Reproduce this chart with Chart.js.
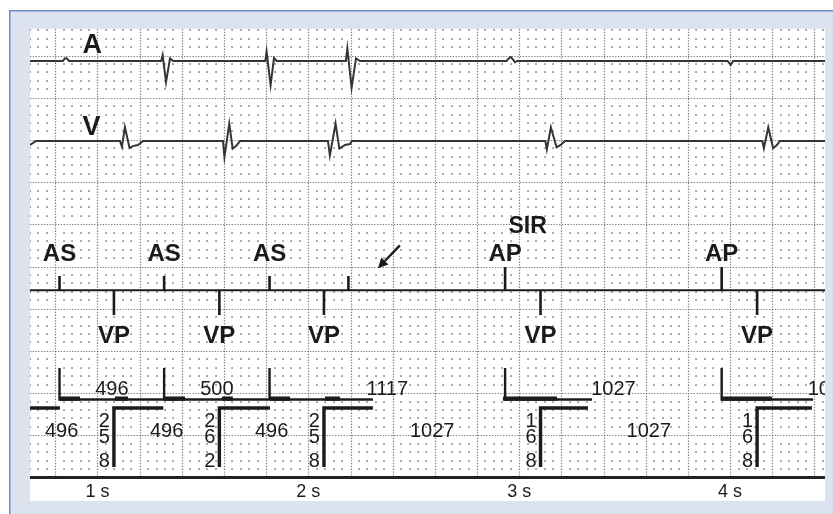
<!DOCTYPE html>
<html lang="en">
<head>
<meta charset="UTF-8">
<title>DDD pacing – EGM and marker channel</title>
<script src="https://cdn.jsdelivr.net/npm/chart.js"></script>
<style>
  html, body { margin: 0; padding: 0; background: #fff; }
  canvas { display: block; }
</style>
</head>
<body>
<canvas id="egm" width="833" height="514"></canvas>
<script>
// ---- values: time in ms, amplitude in mm of paper ----
const timeTicks = [1000, 2000, 3000, 4000];
const timeTickLabels = ['1 s', '2 s', '3 s', '4 s'];

// atrial EGM, [ms, mm above baseline]
const atrialTrace = [
  [680, 0], [836, 0], [846, 0.3], [852, 0.35], [860, 0.15], [866, 0],
  [1302, 0], [1309, 0.7], [1325, -2.5], [1344, 0.3], [1359, 0],
  [1796, 0], [1802, 1.1], [1821, -2.85], [1837, 0.35], [1850, 0],
  [2178, 0], [2185, 1.5], [2205, -3.2], [2226, 0.3], [2245, 0],
  [2940, 0], [2950, 0.3], [2960, 0.47], [2970, 0.2], [2980, -0.15], [2990, 0],
  [3988, 0], [4003, -0.47], [4014, 0],
  [4450, 0]
];

// ventricular EGM, [ms, mm above baseline]
const ventTrace = [
  [680, -0.47], [708, 0],
  [1107, 0], [1116, -0.7], [1130, 1.66], [1152, -0.83], [1168, -0.6], [1192, -0.47], [1216, 0],
  [1595, 0], [1602, -1.9], [1625, 2.05], [1641, -0.91], [1657, -0.6], [1676, 0],
  [2093, 0], [2102, -1.7], [2129, 2.05], [2147, -0.91], [2174, -0.47], [2197, -0.36], [2207, 0],
  [3124, 0], [3131, -0.98], [3150, 1.62], [3177, -0.75], [3197, -0.47], [3217, 0],
  [4153, 0], [4160, -0.86], [4181, 1.62], [4204, -0.86], [4222, -0.47], [4236, 0],
  [4450, 0]
];

// marker channel
const atrialTimes = [820, 1316, 1816, 2190, 2933, 3960];
const atrialMarks = ['AS', 'AS', 'AS', '', 'AP', 'AP'];   // '' = unlabelled sense (arrow)
const ventTimes = [1078, 1578, 2074, 3101, 4128];
const ventMarks = ['VP', 'VP', 'VP', 'VP', 'VP'];
const sirNote = 'SIR';
const sirTime = 3040;
const arrowTail = [2434, 27.5];
const arrowTip = [2330, 24.8];

// interval ladder
const ladderA = [820, 1316, 1816, 2933, 3960, 4987];
const aaLabels = ['496', '500', '1117', '1027', '1027'];
const upperEnds = [1312, 1818, 2306, 3345, 4393];
const upperThick = [[820, 917], [1083, 1145], [1311, 1415], [1590, 1642], [1818, 1913], [2079, 2150], [2923, 3179], [3961, 4198]];
const ladderV = [582, 1078, 1578, 2074, 3101, 4128];
const vvLabels = ['496', '496', '496', '1027', '1027'];
const lowerEnds = [822, 1312, 1818, 2306, 3326, 4388];
const avLabels = ['258', '262', '258', '168', '168'];

// ---- layout (mm on the paper) ----
const X_MIN = 680, X_MAX = 4450;
const L = {
  aBase: 49.35, vBase: 39.87,
  markBase: 22.2, asTop: 23.87, apTop: 24.94, vpBottom: 19.25,
  aLabelY: 25.65, vLabelY: 15.94, sirY: 28.97,
  upperTop: 12.97, upperY: 9.24, lowerY: 8.23, lowerBottom: 1.24,
  upperNumY: 9.77, lowerNumY: 4.8, avDigitY: [6.04, 4.09, 1.24], timeY: -2.31
};
const INK = '#1b1b1b';
const FONT = '"Liberation Sans", Arial, sans-serif';

function gapped(segments) {
  const out = [];
  segments.forEach(seg => {
    seg.forEach(([x, y]) => out.push({ x, y }));
    out.push({ x: seg[seg.length - 1][0], y: null });
  });
  return out;
}

function lineSet(data, width, color) {
  return {
    data, showLine: true, spanGaps: false, fill: false,
    borderColor: color || INK, borderWidth: width,
    pointRadius: 0, borderCapStyle: 'butt', borderJoinStyle: 'miter',
    tension: 0, clip: 0
  };
}

const datasets = [
  lineSet(atrialTrace.map(([t, v]) => ({ x: t, y: L.aBase + v })), 2, '#353535'),
  lineSet(ventTrace.map(([t, v]) => ({ x: t, y: L.vBase + v })), 2, '#353535'),
  lineSet([{ x: X_MIN, y: L.markBase }, { x: X_MAX, y: L.markBase }], 2),
  lineSet(gapped(atrialTimes.map((t, i) =>
    [[t, L.markBase], [t, atrialMarks[i] === 'AP' ? L.apTop : L.asTop]])), 2.6),
  lineSet(gapped(ventTimes.map(t => [[t, L.markBase], [t, L.vpBottom]])), 2.6),
  lineSet(gapped(upperEnds.map((e, i) =>
    [[ladderA[i], L.upperTop], [ladderA[i], L.upperY], [e, L.upperY]])), 2.4),
  lineSet(gapped(upperThick.map(([s, e]) => [[s, L.upperY + 0.1], [e, L.upperY + 0.1]])), 4.2),
  lineSet(gapped(lowerEnds.map((e, i) =>
    [[ladderV[i], L.lowerBottom], [ladderV[i], L.lowerY], [e, L.lowerY]])), 3.4)
];

const paper = {
  id: 'paper',
  beforeDraw(chart) {
    const { ctx, chartArea: a, width, height } = chart;
    const x = chart.scales.x, y = chart.scales.y;
    ctx.save();
    ctx.fillStyle = '#fff';
    ctx.fillRect(0, 0, width, height);
    ctx.fillStyle = '#dde3ee';
    ctx.fillRect(9, 10, width - 9, height - 10);
    ctx.strokeStyle = '#6a8cc6';
    ctx.lineWidth = 1.5;
    ctx.beginPath();
    ctx.moveTo(9.75, height); ctx.lineTo(9.75, 10.75); ctx.lineTo(width, 10.75);
    ctx.stroke();
    ctx.fillStyle = '#fff';
    ctx.fillRect(a.left, a.top, a.right - a.left, a.bottom - a.top);

    // paper grid: dots every 40 ms / 1 mm, dotted lines every 200 ms / 5 mm
    const y0 = y.getPixelForValue(0);
    ctx.beginPath(); ctx.rect(a.left, a.top, a.right - a.left, a.bottom - a.top); ctx.clip();
    ctx.fillStyle = 'rgba(60,60,60,0.75)';
    for (let t = Math.ceil(X_MIN / 40) * 40; t <= X_MAX; t += 40) {
      if (t % 200 === 0) continue;
      const px = Math.round(x.getPixelForValue(t));
      for (let m = 1; m <= 53; m++) {
        if (m % 5 === 0) continue;
        ctx.fillRect(px - 0.7, Math.round(y.getPixelForValue(m)) - 0.7, 1.5, 1.5);
      }
    }
    ctx.strokeStyle = 'rgba(70,70,70,0.7)';
    ctx.lineWidth = 1.2;
    ctx.setLineDash([1.3, 1.5]);
    for (let t = Math.ceil(X_MIN / 200) * 200; t <= X_MAX; t += 200) {
      const px = Math.round(x.getPixelForValue(t)) + 0.5;
      ctx.beginPath(); ctx.moveTo(px, a.top); ctx.lineTo(px, y0); ctx.stroke();
    }
    for (let m = 5; m <= 53; m += 5) {
      const py = Math.round(y.getPixelForValue(m)) + 0.5;
      ctx.beginPath(); ctx.moveTo(a.left, py); ctx.lineTo(a.right, py); ctx.stroke();
    }
    ctx.setLineDash([]);
    ctx.strokeStyle = '#222';
    ctx.lineWidth = 3;
    ctx.beginPath(); ctx.moveTo(a.left, y0); ctx.lineTo(a.right, y0); ctx.stroke();
    ctx.restore();
  }
};

const annotations = {
  id: 'annotations',
  afterDatasetsDraw(chart) {
    const { ctx, chartArea: a } = chart;
    const x = chart.scales.x, y = chart.scales.y;
    const px = v => x.getPixelForValue(v), py = v => y.getPixelForValue(v);
    ctx.save();
    ctx.beginPath(); ctx.rect(a.left, a.top, a.right - a.left, a.bottom - a.top); ctx.clip();
    ctx.fillStyle = INK;
    ctx.textBaseline = 'alphabetic';
    ctx.textAlign = 'center';

    ctx.font = 'bold 27px ' + FONT;
    ctx.fillText('A', px(975), py(50.3));
    ctx.fillText('V', px(972), py(40.6));

    ctx.font = 'bold 24px ' + FONT;
    atrialTimes.forEach((t, i) => { if (atrialMarks[i]) ctx.fillText(atrialMarks[i], px(t), py(L.aLabelY)); });
    ventTimes.forEach((t, i) => ctx.fillText(ventMarks[i], px(t), py(L.vLabelY)));
    ctx.font = 'bold 23px ' + FONT;
    ctx.fillText(sirNote, px(sirTime), py(L.sirY));

    // arrow to the unlabelled atrial sense
    const tx = px(arrowTip[0]), ty = py(arrowTip[1]);
    const sx = px(arrowTail[0]), sy = py(arrowTail[1]);
    const ang = Math.atan2(ty - sy, tx - sx);
    const hl = 10, hw = 5;
    const bx = tx - hl * Math.cos(ang), by = ty - hl * Math.sin(ang);
    ctx.strokeStyle = INK; ctx.lineWidth = 2.4;
    ctx.beginPath(); ctx.moveTo(sx, sy); ctx.lineTo(bx, by); ctx.stroke();
    ctx.beginPath();
    ctx.moveTo(tx, ty);
    ctx.lineTo(bx + hw * Math.sin(ang), by - hw * Math.cos(ang));
    ctx.lineTo(bx - hw * Math.sin(ang), by + hw * Math.cos(ang));
    ctx.closePath(); ctx.fill();

    // ladder numbers
    ctx.font = '20px ' + FONT;
    aaLabels.forEach((s, i) => ctx.fillText(s, px((ladderA[i] + ladderA[i + 1]) / 2), py(L.upperNumY)));
    vvLabels.forEach((s, i) => ctx.fillText(s, px((ladderV[i] + ladderV[i + 1]) / 2), py(L.lowerNumY)));
    ctx.textAlign = 'right';
    avLabels.forEach((s, i) => {
      const vx = px(ladderV[i + 1]) - 4;
      s.split('').forEach((d, k) => ctx.fillText(d, vx, py(L.avDigitY[k])));
    });

    ctx.textAlign = 'center';
    ctx.font = '18px ' + FONT;
    timeTicks.forEach((t, i) => ctx.fillText(timeTickLabels[i], px(t), py(L.timeY)));
    ctx.restore();
  }
};

new Chart(document.getElementById('egm').getContext('2d'), {
  type: 'scatter',
  data: { datasets },
  options: {
    responsive: false,
    animation: false,
    layout: { padding: { left: 30, top: 29, right: 8, bottom: 13 } },
    scales: {
      x: { type: 'linear', min: X_MIN, max: X_MAX, display: false },
      y: { type: 'linear', min: -2.78, max: 53.14, display: false }
    },
    plugins: { legend: { display: false }, tooltip: { enabled: false } },
    events: []
  },
  plugins: [paper, annotations]
});
</script>
</body>
</html>
